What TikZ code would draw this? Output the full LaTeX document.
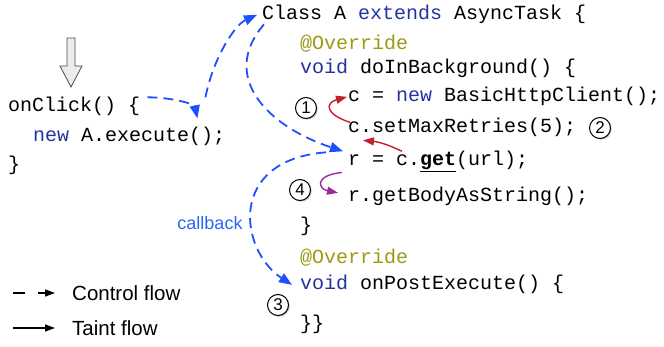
\documentclass[tikz,border=0pt]{standalone}
\usepackage{fontspec}
\setmainfont{Liberation Sans}
\setmonofont{Liberation Mono}
\usetikzlibrary{positioning,arrows.meta,shadows}
\definecolor{cKey}{HTML}{2233A0}
\definecolor{cAnno}{HTML}{9C9A14}
\definecolor{cCtrl}{HTML}{1F4FFF}
\definecolor{cCall}{HTML}{2B66F5}
\definecolor{cTaint}{HTML}{C41E2A}
\definecolor{cRet}{HTML}{9B2A9E}
\newcommand{\kwd}[1]{\textcolor{cKey}{#1}}
\newcommand{\annot}[1]{\textcolor{cAnno}{#1}}
\tikzset{
  code/.style   ={anchor=base west, inner sep=0pt, font=\ttfamily\fontsize{20}{24}\selectfont},
  num/.style    ={circle, draw, fill=white, line width=1pt, inner sep=0pt, minimum size=21pt,
                  font=\fontsize{17}{19}\selectfont,
                  drop shadow={shadow xshift=1.2pt, shadow yshift=-1.2pt, fill=black!45}},
  lbl/.style    ={inner sep=0pt, font=\fontsize{20.5}{24}\selectfont},
  ctrl/.style   ={draw=cCtrl, line width=1.8pt, dash pattern=on 10pt off 6pt,
                  -{Triangle[length=13pt,width=10pt]}},
  taint/.style  ={draw=cTaint, line width=1.4pt, -{Triangle[length=11pt,width=8pt]}},
  ret/.style    ={draw=cRet, line width=1.4pt, -{Triangle[length=11pt,width=8pt]}},
  legc/.style   ={line width=1.5pt, dash pattern=on 12pt off 13pt, -{Triangle[length=10pt,width=7pt]}},
  legt/.style   ={line width=1.5pt, -{Triangle[length=10pt,width=7pt]}},
}
\begin{document}
\begin{tikzpicture}[x=1pt, y=-1pt]
\useasboundingbox (0,0) rectangle (664,347);

% click
\draw[draw=gray!60!black, fill=gray!15, line width=0.8pt]
  (67,38) -- (75,38) -- (75,66) -- (82,66) -- (71,87) -- (60,66) -- (67,66) -- cycle;

% caller
\node[code] (onclick) at (8,112) {onClick() \{};
\node[code] (exec) at (33,142) {\kwd{new} A.execute();};
\node[code] (close0) at (8,171) {\}};

% AsyncTask
\node[code] (cls) at (262,20) {Class A \kwd{extends} AsyncTask \{};
\node[code] (ovr1) at (300,50) {\annot{@Override}};
\node[code] (dib) at (300,74) {\kwd{void} doInBackground() \{};
\node[code] (cnew) at (348,102) {c = \kwd{new} BasicHttpClient();};
\node[code] (setmax) at (348,133) {c.setMaxRetries(5);};
\node[code] (rget) at (348,166) {r = c.\textbf{\underline{get}}(url);};
\node[code] (body) at (348,202) {r.getBodyAsString();};
\node[code] (close1) at (300,232) {\}};
\node[code] (ovr2) at (300,264) {\annot{@Override}};
\node[code] (onpost) at (300,290) {\kwd{void} onPostExecute() \{};
\node[code] (close2) at (300,330) {\}\}};

\node[num] (n1) at (306,108) {1};
\node[num] (n2) at (600,128) {2};
\node[num] (n3) at (278,305) {3};
\node[num] (n4) at (300,190) {4};

% control flow
\draw[ctrl] ([xshift=7pt]onclick.north east) .. controls +(25,0) and +(-3,-14)
  .. ([xshift=-28pt,yshift=9pt]exec.north east);
\draw[ctrl] ([xshift=-20pt,yshift=30pt]exec.north east) .. controls +(8,-40) and +(-22,10)
  .. ([xshift=-5pt]cls.west);
\draw[ctrl] ([xshift=2pt]cls.south west) .. controls +(-44,51) and +(-78,-26)
  .. ([xshift=-5pt]rget.north west);
\draw[ctrl] ([xshift=-22pt,yshift=-1pt]rget.north west) .. controls +(-100,8) and +(-52,-34)
  .. ([xshift=-8pt]onpost.west);
\node[lbl, text=cCall, font=\fontsize{18}{20}\selectfont] (cb) at (210,223) {callback};

% taint flow
\draw[taint] ([xshift=2pt,yshift=-4pt]setmax.north west) .. controls +(-25,-8) and +(-22,6)
  .. ([xshift=-1pt]cnew.west);
\draw[taint] ([xshift=54pt]rget.north west) to[bend right=10]
  ([xshift=15pt,yshift=-3pt]setmax.south west);
\draw[ret] ([xshift=-6pt]rget.south west) .. controls +(-28,3) and +(-20,-4)
  .. ([xshift=-10pt,yshift=4pt]body.west);

% legend
\node[lbl, anchor=west] (lctrl) at (72,293) {Control flow};
\node[lbl, anchor=west] (ltaint) at (72,328) {Taint flow};
\coordinate (lc) at (13,293);
\coordinate (lt) at (13,328);
\draw[legc] (lc) -- ([xshift=-17pt]lctrl.west);
\draw[legt] (lt) -- ([xshift=-17pt]ltaint.west);
\end{tikzpicture}
\end{document}
